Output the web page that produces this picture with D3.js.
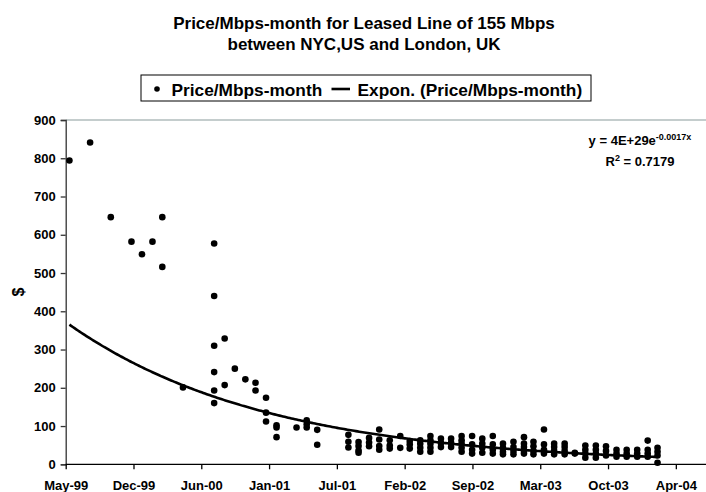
<!DOCTYPE html>
<html>
<head>
<meta charset="utf-8">
<title>Price/Mbps-month</title>
<script src="https://d3js.org/d3.v7.min.js"></script>
<style>
  body { margin: 0; background: #fff; }
  svg { display: block; font-family: "Liberation Sans", Arial, sans-serif; font-weight: bold; }
  .tick text { font-size: 13px; font-weight: bold; fill: #000; }
</style>
</head>
<body>
<svg id="chart" width="706" height="492"></svg>
<script>

// months with observations, and the prices seen in each month
var months = [
  "1999-06", "1999-08", "1999-10", "1999-12", "2000-01", "2000-02", "2000-03", "2000-05",
  "2000-08", "2000-09", "2000-10", "2000-11", "2000-12", "2001-01", "2001-02", "2001-04",
  "2001-05", "2001-06", "2001-09", "2001-10", "2001-11", "2001-12", "2002-01", "2002-02",
  "2002-03", "2002-04", "2002-05", "2002-06", "2002-07", "2002-08", "2002-09", "2002-10",
  "2002-11", "2002-12", "2003-01", "2003-02", "2003-03", "2003-04", "2003-05", "2003-06",
  "2003-07", "2003-08", "2003-09", "2003-10", "2003-11", "2003-12", "2004-01", "2004-02",
  "2004-03"
];
var prices = [
  [794], [841], [646], [582], [549], [582], [646, 516], [201],
  [577, 440, 310, 241, 193, 160], [329, 207], [250], [222], [213, 193], [174, 135, 112], [102, 96, 71], [96],
  [115, 105, 96], [90, 51], [77, 59, 44], [58, 48, 36, 30], [69, 57, 47], [91, 65, 48, 38], [63, 49, 41], [74, 43],
  [61, 52, 41], [63, 54, 43, 33], [74, 63, 54, 43, 33], [67, 56, 45], [67, 56, 45], [74, 63, 54, 43, 33], [74, 52, 38, 28], [67, 54, 43, 30],
  [74, 52, 38, 28], [54, 43, 33, 26], [59, 45, 35, 26], [71, 54, 45, 35, 28], [59, 47, 35, 26], [91, 52, 38, 28], [54, 45, 35, 26], [54, 45, 35, 26],
  [30, 28], [49, 38, 28, 17], [49, 38, 28, 17], [47, 35, 23], [38, 28, 20], [38, 28, 20], [38, 28, 20], [62, 38, 28, 20],
  [43, 33, 23, 4]
];

var xTickLabels = ["May-99", "Dec-99", "Jun-00", "Jan-01", "Jul-01", "Feb-02", "Sep-02", "Mar-03", "Oct-03", "Apr-04"];
var yTicks = [0, 100, 200, 300, 400, 500, 600, 700, 800, 900];

// exponential trendline as drawn: value at the first month, decay per day (from the label)
var trendStart = 365;
var trendRate = 0.0017;

var parseMonth = d3.timeParse("%Y-%m");
var points = [];
months.forEach(function(m, i) {
  prices[i].forEach(function(p) { points.push({ date: parseMonth(m), price: p }); });
});

var svg = d3.select("#chart");
var plotLeft = 65.7, plotRight = 706, plotTop = 120, plotBottom = 464.3;

var axisStart = new Date(1999, 4, 21);
var x = d3.scaleTime()
    .domain([axisStart, d3.timeDay.offset(axisStart, 1889)])
    .range([plotLeft, plotRight]);
var y = d3.scaleLinear().domain([0, 900]).range([plotBottom, plotTop]);

var tickDates = xTickLabels.map(function(d, i) { return d3.timeDay.offset(axisStart, i * 200); });

// plot area top border
svg.append("line")
    .attr("x1", plotLeft).attr("x2", plotRight)
    .attr("y1", plotTop).attr("y2", plotTop)
    .attr("stroke", "#8a9b9b").attr("stroke-width", 1.2);

var yAxis = svg.append("g")
    .attr("transform", "translate(" + plotLeft + ",0)")
    .call(d3.axisLeft(y).tickValues(yTicks).tickSize(5).tickPadding(5));
yAxis.selectAll("path, line").attr("stroke", "#333").attr("stroke-width", 1.3);

var xAxis = svg.append("g")
    .attr("transform", "translate(0," + plotBottom + ")")
    .call(d3.axisBottom(x).tickValues(tickDates).tickSize(5).tickPadding(11)
      .tickFormat(function(d, i) { return xTickLabels[i]; }));
xAxis.selectAll("path, line").attr("stroke", "#000").attr("stroke-width", 1.3);
xAxis.select(".domain").attr("d", "M" + plotLeft + ",0H" + plotRight);

var t0 = points[0].date;
var lastDay = d3.max(points, function(d) { return d3.timeDay.count(t0, d.date); });
var trend = d3.range(0, lastDay + 1, 5).map(function(t) {
  return { date: d3.timeDay.offset(t0, t), price: trendStart * Math.exp(-trendRate * t) };
});

svg.append("path")
    .datum(trend)
    .attr("fill", "none")
    .attr("stroke", "#000")
    .attr("stroke-width", 2.6)
    .attr("d", d3.line().x(function(d) { return x(d.date); }).y(function(d) { return y(d.price); }));

svg.selectAll(".dot")
    .data(points)
  .enter().append("circle")
    .attr("class", "dot")
    .attr("cx", function(d) { return x(d.date); })
    .attr("cy", function(d) { return y(d.price); })
    .attr("r", 3.3)
    .attr("fill", "#000");

// title
svg.append("text").attr("x", 364).attr("y", 29).attr("text-anchor", "middle")
    .style("font-size", "17px").text("Price/Mbps-month for Leased Line of 155 Mbps");
svg.append("text").attr("x", 364).attr("y", 49.5).attr("text-anchor", "middle")
    .style("font-size", "17px").text("between NYC,US and London, UK");

// y label
svg.append("text")
    .attr("transform", "translate(24,292) rotate(-90)")
    .attr("text-anchor", "middle")
    .style("font-size", "16px").text("$");

// legend
var legend = svg.append("g");
legend.append("rect").attr("x", 141).attr("y", 75).attr("width", 450).attr("height", 26)
    .attr("fill", "#fff").attr("stroke", "#000").attr("stroke-width", 1);
legend.append("circle").attr("cx", 157).attr("cy", 89).attr("r", 2.8).attr("fill", "#000");
legend.append("text").attr("x", 171.5).attr("y", 95.5).style("font-size", "17.3px").text("Price/Mbps-month");
legend.append("line").attr("x1", 331.5).attr("x2", 350).attr("y1", 89).attr("y2", 89)
    .attr("stroke", "#000").attr("stroke-width", 2.6);
legend.append("text").attr("x", 357.5).attr("y", 95.5).style("font-size", "17.3px").text("Expon. (Price/Mbps-month)");

// equation
var eq = svg.append("text").attr("x", 640).attr("y", 145).attr("text-anchor", "middle").style("font-size", "13px");
eq.append("tspan").text("y = 4E+29e");
eq.append("tspan").attr("dy", -5).style("font-size", "9px").text("-0.0017x");
var r2 = svg.append("text").attr("x", 640).attr("y", 166).attr("text-anchor", "middle").style("font-size", "13px");
r2.append("tspan").text("R");
r2.append("tspan").attr("dy", -5).style("font-size", "9px").text("2");
r2.append("tspan").attr("dy", 5).text(" = 0.7179");

</script>
</body>
</html>
